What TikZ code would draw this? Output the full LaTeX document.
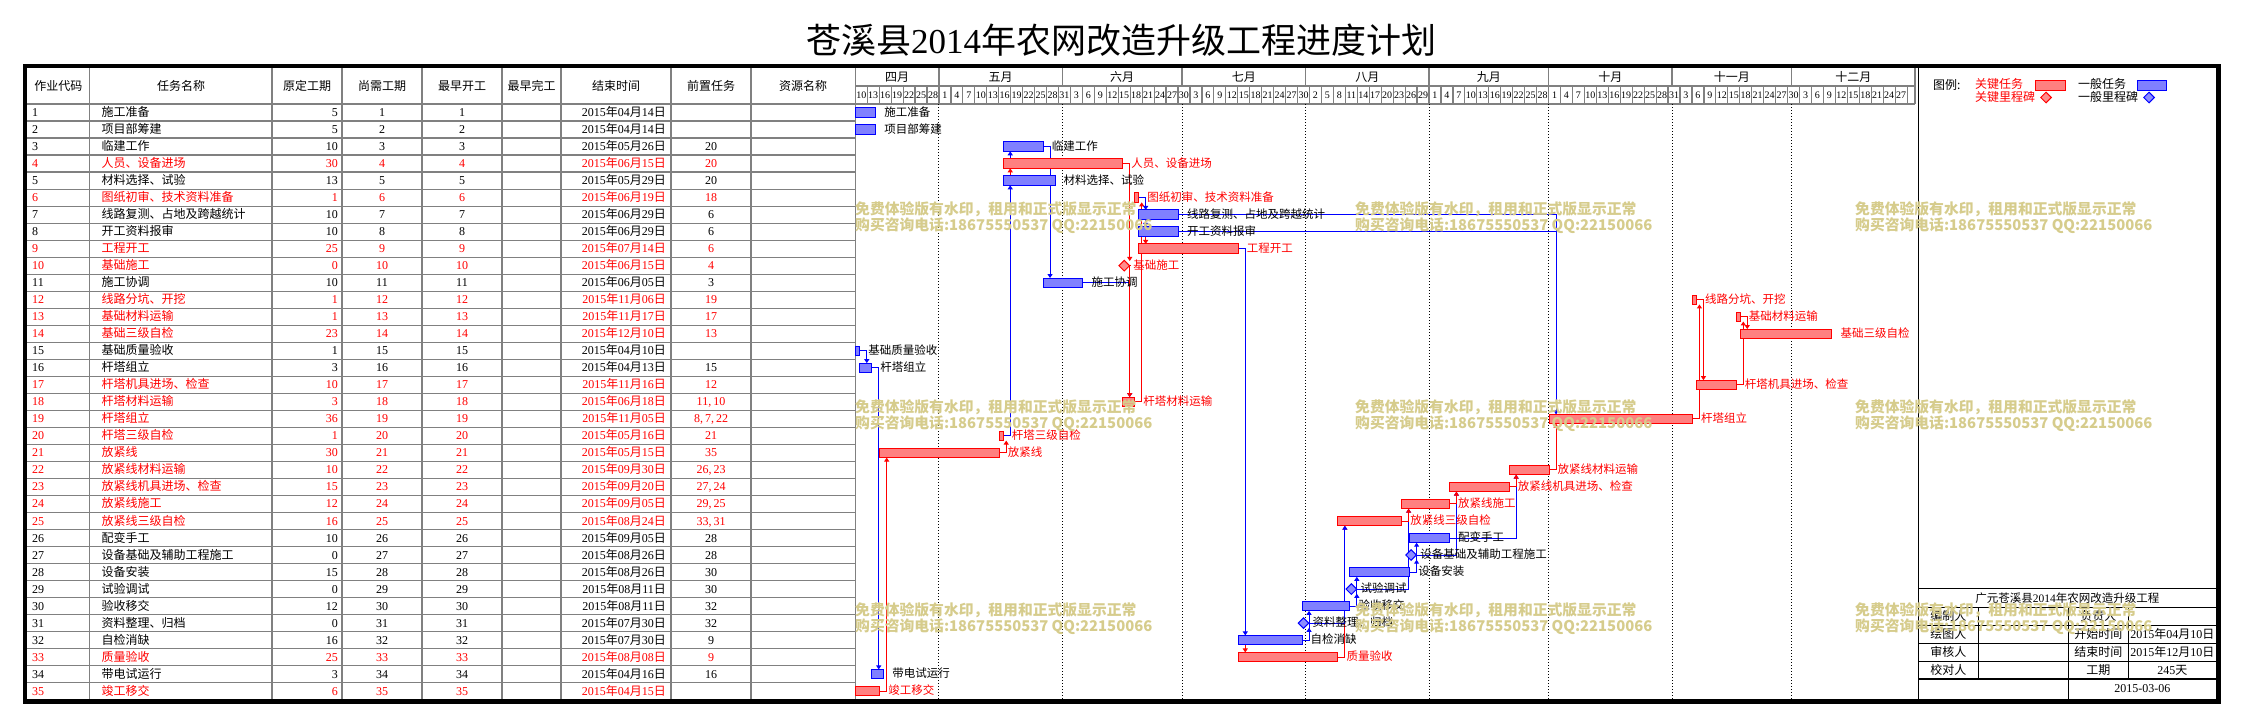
\documentclass[tikz,border=0pt]{standalone}
\usepackage{fontspec}
\setmainfont{Noto Sans CJK SC}
\newfontfamily\lat{Liberation Serif}
\usetikzlibrary{arrows.meta,shapes.geometric}
\pgfdeclarelayer{gridl}
\pgfdeclarelayer{connl}
\pgfdeclarelayer{topl}
\pgfsetlayers{gridl,connl,main,topl}
\definecolor{gridg}{RGB}{128,128,128}
\definecolor{wmk}{RGB}{214,204,140}
\newcommand\X[1]{855.3+3.984*(#1)}
\newcommand\Y[1]{104+17.02*((#1)-0.5)}
\tikzset{
  cbar/.style={rectangle,draw=red,fill=red!50,line width=1pt,minimum height=9.4pt,inner sep=0pt},
  nbar/.style={rectangle,draw=blue,fill=blue!50,line width=1pt,minimum height=9.4pt,inner sep=0pt},
  cms/.style={diamond,aspect=1,draw=red,fill=red!45,line width=1pt,minimum width=11pt,minimum height=11pt,inner sep=0pt},
  nms/.style={diamond,aspect=1,draw=blue,fill=blue!45,line width=1pt,minimum width=11pt,minimum height=11pt,inner sep=0pt},
  ctext/.style={text=red,font=\fontsize{11.5}{12}\selectfont,inner sep=0pt,text height=8.5pt,text depth=1pt},
  ntext/.style={text=black,font=\fontsize{11.5}{12}\selectfont,inner sep=0pt,text height=8.5pt,text depth=1pt},
  rconn/.style={draw=red,line width=1pt,-{Triangle[length=4pt,width=5pt]}},
  bconn/.style={draw=blue,line width=1pt,-{Triangle[length=4pt,width=5pt]}},
  tcell/.style={font=\fontsize{12}{13}\selectfont,inner sep=0pt,text height=9pt,text depth=1pt},
  redrow/.style={text=red},
  blackrow/.style={text=black},
  gline/.style={draw=gridg,line width=1.2pt},
  dayn/.style={font=\lat\fontsize{10}{11}\selectfont,inner sep=0pt},
  wmark/.style={text=wmk,font=\bfseries\fontsize{14.8}{16}\selectfont,inner sep=0pt},
  bline/.style={draw=black,line width=1.2pt},
}
% task bar: id, start day, end day (exclusive), c/n, label
\newcommand\tk[5]{%
  \node[#4bar,minimum width={3.984*((#3)-(#2))},anchor=west] (t#1) at ({\X{#2}},{\Y{#1}}) {};
  \coordinate (t#1-top) at ({\X{#2}+7.5},{\Y{#1}-4.7});
  \coordinate (t#1-bot) at ({\X{#2}+7.5},{\Y{#1}+4.7});
  \node[#4text,anchor=west] (l#1) at ([xshift=8pt]t#1.east) {#5};
}
% milestone: id, day, c/n, label
\newcommand\mst[4]{%
  \node[#3ms] (t#1) at ({\X{#2}+2},{\Y{#1}}) {};
  \coordinate (t#1-top) at ({\X{#2}+7.5},{\Y{#1}-4.7});
  \coordinate (t#1-bot) at ({\X{#2}+7.5},{\Y{#1}+4.7});
  \node[#3text,anchor=west] (l#1) at ([xshift=3pt]t#1.east) {#4};
}
% table row: id, name, duration, month, day, pred, style
\newcommand\trow[7]{%
  \node[tcell,#7,anchor=west] (ca#1) at (32,{\Y{#1}}) {\lat #1};
  \node[tcell,#7,anchor=west] (cb#1) at (101.5,{\Y{#1}}) {#2};
  \node[tcell,#7,anchor=east] (cc#1) at (338,{\Y{#1}}) {\lat #3};
  \node[tcell,#7] (cd#1) at (382,{\Y{#1}}) {\lat #1};
  \node[tcell,#7] (ce#1) at (462,{\Y{#1}}) {\lat #1};
  \node[tcell,#7,anchor=east] (cf#1) at (666,{\Y{#1}}) {{\lat 2015}年{\lat #4}月{\lat #5}日};
  \node[tcell,#7] (cg#1) at (711,{\Y{#1}}) {\lat #6};
}
\begin{document}
\begin{tikzpicture}[x=1pt,y=-1pt]
\useasboundingbox (0,0) rectangle (2242,724);

% ---------- title ----------
\node[inner sep=0pt,font=\fontsize{35}{40}\selectfont] (title) at (1121,40) {苍溪县{\lat 2014}年农网改造升级工程进度计划};

% ---------- grid ----------
\begin{pgfonlayer}{gridl}
  \fill[white] (0,0) rectangle (2242,724);
  \foreach \cx in {89.6,272,342,422,502,561,671,751,855.3}
    \draw[gline] (\cx,68) -- (\cx,699.7);
  \foreach \k in {0,...,34}
    \draw[gline] (27,{104+17.02*\k}) -- (855.3,{104+17.02*\k});
  % chart header
  \draw[gline] (855.3,86) -- (1915,86);
  \draw[gline] (855.3,104) -- (1915,104);
  \draw[gline] (1915,68) -- (1915,104);
  \foreach \d in {21,52,82,113,144,174,205,235} {
    \draw[gline] ({\X{\d}},68) -- ({\X{\d}},86);
    \draw[black,line width=1pt,dotted] ({\X{\d}},104) -- ({\X{\d}},699.7);
  }
  \foreach \k in {1,...,88}
    \draw[gline] ({\X{3*\k}},86) -- ({\X{3*\k}},104);
  % divider between chart and legend
  \draw[bline] (1918.5,68) -- (1918.5,699.7);
  % info box
  \foreach \yy in {588.3,607.3,625.3,643.3,661.3,679}
    \draw[bline] (1918.5,\yy) -- (2216.3,\yy);
  \draw[bline] (1978.3,607.3) -- (1978.3,679);
  \draw[bline] (2068.3,607.3) -- (2068.3,699.7);
  \draw[bline] (2128.3,607.3) -- (2128.3,679);
\end{pgfonlayer}

% ---------- table header ----------
\foreach \hx/\hname [count=\hi] in {58.3/作业代码,181/任务名称,307/原定工期,382/尚需工期,462/最早开工,531.5/最早完工,616/结束时间,711/前置任务,803/资源名称}
  \node[tcell] (h\hi) at (\hx,86) {\hname};

% ---------- chart header ----------
\foreach \mx/\mname [count=\mi] in {10.5/四月,36.5/五月,67/六月,97.5/七月,128.5/八月,159/九月,189.5/十月,220/十一月,250.5/十二月}
  \node[tcell] (m\mi) at ({\X{\mx}},77) {\mname};
\foreach \dv [count=\k from 0] in {10,13,16,19,22,25,28,1,4,7,10,13,16,19,22,25,28,31,3,6,9,12,15,18,21,24,27,30,3,6,9,12,15,18,21,24,27,30,2,5,8,11,14,17,20,23,26,29,1,4,7,10,13,16,19,22,25,28,1,4,7,10,13,16,19,22,25,28,31,3,6,9,12,15,18,21,24,27,30,3,6,9,12,15,18,21,24,27}
  \node[dayn] (dd\k) at ({\X{3*\k+1.5}},95.5) {\dv};

% ---------- table rows ----------
\trow{1}{施工准备}{5}{04}{14}{}{blackrow}
\trow{2}{项目部筹建}{5}{04}{14}{}{blackrow}
\trow{3}{临建工作}{10}{05}{26}{20}{blackrow}
\trow{4}{人员、设备进场}{30}{06}{15}{20}{redrow}
\trow{5}{材料选择、试验}{13}{05}{29}{20}{blackrow}
\trow{6}{图纸初审、技术资料准备}{1}{06}{19}{18}{redrow}
\trow{7}{线路复测、占地及跨越统计}{10}{06}{29}{6}{blackrow}
\trow{8}{开工资料报审}{10}{06}{29}{6}{blackrow}
\trow{9}{工程开工}{25}{07}{14}{6}{redrow}
\trow{10}{基础施工}{0}{06}{15}{4}{redrow}
\trow{11}{施工协调}{10}{06}{05}{3}{blackrow}
\trow{12}{线路分坑、开挖}{1}{11}{06}{19}{redrow}
\trow{13}{基础材料运输}{1}{11}{17}{17}{redrow}
\trow{14}{基础三级自检}{23}{12}{10}{13}{redrow}
\trow{15}{基础质量验收}{1}{04}{10}{}{blackrow}
\trow{16}{杆塔组立}{3}{04}{13}{15}{blackrow}
\trow{17}{杆塔机具进场、检查}{10}{11}{16}{12}{redrow}
\trow{18}{杆塔材料运输}{3}{06}{18}{11,\,10}{redrow}
\trow{19}{杆塔组立}{36}{11}{05}{8,\,7,\,22}{redrow}
\trow{20}{杆塔三级自检}{1}{05}{16}{21}{redrow}
\trow{21}{放紧线}{30}{05}{15}{35}{redrow}
\trow{22}{放紧线材料运输}{10}{09}{30}{26,\,23}{redrow}
\trow{23}{放紧线机具进场、检查}{15}{09}{20}{27,\,24}{redrow}
\trow{24}{放紧线施工}{12}{09}{05}{29,\,25}{redrow}
\trow{25}{放紧线三级自检}{16}{08}{24}{33,\,31}{redrow}
\trow{26}{配变手工}{10}{09}{05}{28}{blackrow}
\trow{27}{设备基础及辅助工程施工}{0}{08}{26}{28}{blackrow}
\trow{28}{设备安装}{15}{08}{26}{30}{blackrow}
\trow{29}{试验调试}{0}{08}{11}{30}{blackrow}
\trow{30}{验收移交}{12}{08}{11}{32}{blackrow}
\trow{31}{资料整理、归档}{0}{07}{30}{32}{blackrow}
\trow{32}{自检消缺}{16}{07}{30}{9}{blackrow}
\trow{33}{质量验收}{25}{08}{08}{9}{redrow}
\trow{34}{带电试运行}{3}{04}{16}{16}{blackrow}
\trow{35}{竣工移交}{6}{04}{15}{}{redrow}

% ---------- bars ----------
\tk{1}{0}{5}{n}{施工准备}
\tk{2}{0}{5}{n}{项目部筹建}
\tk{3}{37}{47}{n}{临建工作}
\tk{4}{37}{67}{c}{人员、设备进场}
\tk{5}{37}{50}{n}{材料选择、试验}
\tk{6}{70}{71}{c}{图纸初审、技术资料准备}
\tk{7}{71}{81}{n}{线路复测、占地及跨越统计}
\tk{8}{71}{81}{n}{开工资料报审}
\tk{9}{71}{96}{c}{工程开工}
\mst{10}{67}{c}{基础施工}
\tk{11}{47}{57}{n}{施工协调}
\tk{12}{210}{211}{c}{线路分坑、开挖}
\tk{13}{221}{222}{c}{基础材料运输}
\tk{14}{222}{245}{c}{基础三级自检}
\tk{15}{0}{1}{n}{基础质量验收}
\tk{16}{1}{4}{n}{杆塔组立}
\tk{17}{211}{221}{c}{杆塔机具进场、检查}
\tk{18}{67}{70}{c}{杆塔材料运输}
\tk{19}{174}{210}{c}{杆塔组立}
\tk{20}{36}{37}{c}{杆塔三级自检}
\tk{21}{6}{36}{c}{放紧线}
\tk{22}{164}{174}{c}{放紧线材料运输}
\tk{23}{149}{164}{c}{放紧线机具进场、检查}
\tk{24}{137}{149}{c}{放紧线施工}
\tk{25}{121}{137}{c}{放紧线三级自检}
\tk{26}{139}{149}{n}{配变手工}
\mst{27}{139}{n}{设备基础及辅助工程施工}
\tk{28}{124}{139}{n}{设备安装}
\mst{29}{124}{n}{试验调试}
\tk{30}{112}{124}{n}{验收移交}
\mst{31}{112}{n}{资料整理、归档}
\tk{32}{96}{112}{n}{自检消缺}
\tk{33}{96}{121}{c}{质量验收}
\tk{34}{4}{7}{n}{带电试运行}
\tk{35}{0}{6}{c}{竣工移交}

% ---------- connectors ----------
\begin{pgfonlayer}{connl}
\draw[bconn] (t20.east) -| (t3-bot);
\draw[rconn] (t20.east) -| (t4-bot);
\draw[bconn] (t20.east) -| (t5-bot);
\draw[rconn] (t18.east) -| (t6-bot);
\draw[rconn] (t6.east) -| (t9-top);
\draw[bconn] (t6.east) -| (t8-top);
\draw[bconn] (t6.east) -| (t7-top);
\draw[rconn] (t4.east) -| (t10-top);
\draw[bconn] (t3.east) -| (t11-top);
\draw[rconn] (t19.east) -| (t12-bot);
\draw[rconn] (t17.east) -| (t13-bot);
\draw[rconn] (t13.east) -| (t14-top);
\draw[bconn] (t15.east) -| (t16-top);
\draw[rconn] (t12.east) -| (t17-top);
\draw[bconn] (t11.east) -| (t18-top);
\draw[rconn] (t10.east) -| (t18-top);
\draw[bconn] (t8.east) -| (t19-top);
\draw[bconn] (t7.east) -| (t19-top);
\draw[rconn] (t22.east) -| (t19-bot);
\draw[rconn] (t21.east) -| (t20-bot);
\draw[rconn] (t35.east) -| (t21-bot);
\draw[bconn] (t26.east) -| (t22-bot);
\draw[rconn] (t23.east) -| (t22-bot);
\draw[bconn] (t27.east) -| (t23-bot);
\draw[rconn] (t24.east) -| (t23-bot);
\draw[bconn] (t29.east) -| (t24-bot);
\draw[rconn] (t25.east) -| (t24-bot);
\draw[rconn] (t33.east) -| (t25-bot);
\draw[bconn] (t31.east) -| (t25-bot);
\draw[bconn] (t28.east) -| (t26-bot);
\draw[bconn] (t28.east) -| (t27-bot);
\draw[bconn] (t30.east) -| (t28-bot);
\draw[bconn] (t30.east) -| (t29-bot);
\draw[bconn] (t32.east) -| (t30-bot);
\draw[bconn] (t32.east) -| (t31-bot);
\draw[rconn] (t9.east) -| (t33-top);
\draw[bconn] (t9.east) -| (t32-top);
\draw[bconn] (t16.east) -| (t34-top);
\end{pgfonlayer}

% ---------- legend ----------
\node[tcell,anchor=west] (lg0) at (1933,85) {图例:};
\node[tcell,text=red,anchor=west] (lg1) at (1975,84.5) {关键任务};
\node[cbar,minimum width=30pt] (lg2) at (2050,85.3) {};
\node[tcell,anchor=west] (lg3) at (2078,84.5) {一般任务};
\node[nbar,minimum width=29pt] (lg4) at (2151.5,85.3) {};
\node[tcell,text=red,anchor=west] (lg5) at (1975,97) {关键里程碑};
\node[cms] (lg6) at (2046,97.5) {};
\node[tcell,anchor=west] (lg7) at (2078,97) {一般里程碑};
\node[nms] (lg8) at (2149,97.5) {};

% ---------- info box ----------
\node[tcell,font=\fontsize{11.5}{12}\selectfont] (ib0) at (2067.4,598) {广元苍溪县{\lat 2014}年农网改造升级工程};
\node[tcell] (ib1) at (1948.4,616.3) {编制人};
\node[tcell] (ib2) at (2098.3,616.3) {负责人};
\node[tcell] (ib3) at (1948.4,634.3) {绘图人};
\node[tcell] (ib4) at (2098.3,634.3) {开始时间};
\node[tcell] (ib5) at (2172.3,634.3) {{\lat 2015}年{\lat 04}月{\lat 10}日};
\node[tcell] (ib6) at (1948.4,652.3) {审核人};
\node[tcell] (ib7) at (2098.3,652.3) {结束时间};
\node[tcell] (ib8) at (2172.3,652.3) {{\lat 2015}年{\lat 12}月{\lat 10}日};
\node[tcell] (ib9) at (1948.4,670.2) {校对人};
\node[tcell] (ib10) at (2098.3,670.2) {工期};
\node[tcell] (ib11) at (2172.3,670.2) {{\lat 245}天};
\node[tcell] (ib12) at (2142.3,688.5) {\lat 2015-03-06};

% ---------- watermark & frame ----------
\begin{pgfonlayer}{topl}
\foreach \wx in {855,1355,1855}
  \foreach \wy in {209,407,610} {
    \node[wmark,anchor=west] (wa-\wx-\wy) at (\wx,\wy) {免费体验版有水印，租用和正式版显示正常};
    \node[wmark,anchor=west] (wb-\wx-\wy) at (\wx,\wy+16.5) {购买咨询电话:18675550537 QQ:22150066};
  }
\draw[black,line width=4.5pt] (25,66) rectangle (2218.5,701.5);
\end{pgfonlayer}
\end{tikzpicture}
\end{document}
